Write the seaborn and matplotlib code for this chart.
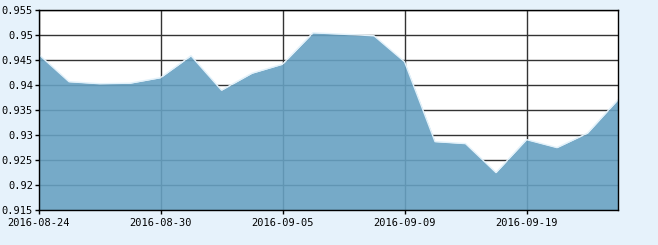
import matplotlib
matplotlib.use("Agg")
import matplotlib.pyplot as plt
import seaborn as sns
import pandas as pd
import numpy as np

dates = ["2016-08-24", "2016-08-25", "2016-08-26", "2016-08-29", "2016-08-30",
         "2016-08-31", "2016-09-01", "2016-09-02", "2016-09-05", "2016-09-06",
         "2016-09-07", "2016-09-08", "2016-09-09", "2016-09-12", "2016-09-13",
         "2016-09-14", "2016-09-19", "2016-09-20", "2016-09-21", "2016-09-22"]
values = [0.9462, 0.9407, 0.9403, 0.9404, 0.9415,
          0.9459, 0.9390, 0.9424, 0.9442, 0.9505,
          0.9502, 0.9499, 0.9447, 0.9287, 0.9283,
          0.9225, 0.9291, 0.9275, 0.9304, 0.9371]
ytick_values = [0.915, 0.92, 0.925, 0.93, 0.935, 0.94, 0.945, 0.95, 0.955]
ytick_labels = ["0.915", "0.92", "0.925", "0.93", "0.935", "0.94", "0.945", "0.95", "0.955"]
xtick_dates = ["2016-08-24", "2016-08-30", "2016-09-05", "2016-09-09", "2016-09-19"]

df = pd.DataFrame({"date": dates, "value": values})
df["idx"] = np.arange(len(df))

sns.set_style("white")
plt.rcParams["font.family"] = ["DejaVu Sans Mono"]

bg = "#E6F2FB"
fig = plt.figure(figsize=(6.58, 2.45), dpi=100, facecolor=bg)
ax = fig.add_axes([38.5 / 658, 35 / 245, (618 - 38.5) / 658, (210 - 10.3) / 245])
ax.set_facecolor("white")

ax.set_axisbelow(True)
ax.grid(True, color="#333333", linewidth=1.0)

ax.fill_between(df["idx"], df["value"], 0.915, color="#67A1C2", alpha=0.9,
                linewidth=0, zorder=2)
sns.lineplot(data=df, x="idx", y="value", ax=ax, color="#E2F1FA",
             linewidth=1.0, zorder=3)

ax.set_xlim(0, len(df) - 1)
ax.set_ylim(0.915, 0.955)
ax.set_yticks(ytick_values)
ax.set_yticklabels(ytick_labels)
ax.set_xticks([dates.index(d) for d in xtick_dates])
ax.set_xticklabels(xtick_dates)
ax.set_xlabel("")
ax.set_ylabel("")

for s in ax.spines.values():
    s.set_color("black")
    s.set_linewidth(1.0)
    s.set_zorder(5)

ax.tick_params(axis="both", which="both", direction="out", length=3, width=1,
               color="black", labelsize=7.5, labelcolor="black", pad=1,
               bottom=True, left=True)
ax.tick_params(axis="x", pad=2.5)

fig.savefig("out.png", dpi=100, facecolor=bg)
